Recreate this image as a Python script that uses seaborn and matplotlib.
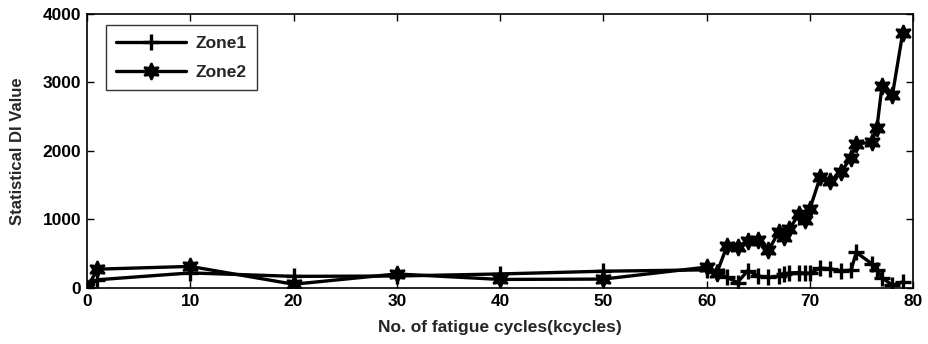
import matplotlib
matplotlib.use("Agg")
import matplotlib.pyplot as plt
import seaborn as sns
import pandas as pd

# Fatigue cycles (kcycles) at which the damage index was evaluated
cycles = [0, 1, 10, 20, 30, 40, 50, 60, 61, 62, 63, 64, 65, 66, 67, 67.5, 68,
          69, 69.5, 70, 71, 72, 73, 74, 74.5, 76, 76.5, 77, 78, 79]

# Statistical damage index per sensing zone
zone1 = [0, 120, 220, 170, 175, 205, 245, 265, 230, 155, 80, 255, 175, 155,
         170, 200, 220, 225, 215, 216, 290, 280, 250, 260, 520, 355, 270,
         150, 40, 90]
zone2 = [0, 275, 315, 55, 205, 125, 130, 305, 220, 620, 600, 690, 705, 550,
         820, 740, 860, 1085, 990, 1150, 1615, 1555, 1690, 1905, 2105, 2125,
         2340, 2950, 2815, 3720]

series_names = ["Zone1", "Zone2"]

sns.set_style("ticks")
plt.rcParams["font.family"] = ["Liberation Sans", "DejaVu Sans"]
plt.rcParams["font.weight"] = "bold"
plt.rcParams["axes.labelweight"] = "bold"
plt.rcParams["xtick.direction"] = "in"
plt.rcParams["ytick.direction"] = "in"

fig = plt.figure(figsize=(9.29, 3.44), dpi=100)
ax = fig.add_axes([0.0937, 0.1628, 0.8891, 0.7965])

df = pd.DataFrame({"cycles": cycles, "Zone1": zone1, "Zone2": zone2})

sns.lineplot(data=df, x="cycles", y="Zone1", ax=ax, color="black",
             linewidth=2.4, marker="+", markersize=11, markeredgewidth=2.4,
             markeredgecolor="black", markerfacecolor="black",
             label=series_names[0])
sns.lineplot(data=df, x="cycles", y="Zone2", ax=ax, color="black",
             linewidth=2.4, marker=(6, 1, 0), markersize=12,
             markerfacecolor="black", markeredgecolor="black",
             markeredgewidth=1.5, label=series_names[1])

ax.set_xlim(0, 80)
ax.set_ylim(0, 4000)
ax.set_xticks(range(0, 81, 10))
ax.set_yticks(range(0, 4001, 1000))
ax.tick_params(axis="both", which="both", top=True, right=True, length=5,
               width=1, labelsize=12.5, pad=4, colors="black")
for lbl in ax.get_xticklabels() + ax.get_yticklabels():
    lbl.set_fontweight("bold")
for sp in ax.spines.values():
    sp.set_visible(True)
    sp.set_linewidth(1.2)
    sp.set_color("black")

ax.set_xlabel("No. of fatigue cycles(kcycles)", fontsize=12.5,
              fontweight="bold", labelpad=8)
ax.set_ylabel("Statistical DI Value", fontsize=12, fontweight="bold",
              labelpad=13)

leg = ax.legend(loc="upper left", bbox_to_anchor=(0.012, 0.99),
                frameon=True, fancybox=False, edgecolor="black",
                handlelength=4.0, borderpad=0.6, labelspacing=0.8,
                handletextpad=0.6, prop={"weight": "bold", "size": 12.5})
leg.get_frame().set_linewidth(1.0)

fig.savefig("out.png", dpi=100)
